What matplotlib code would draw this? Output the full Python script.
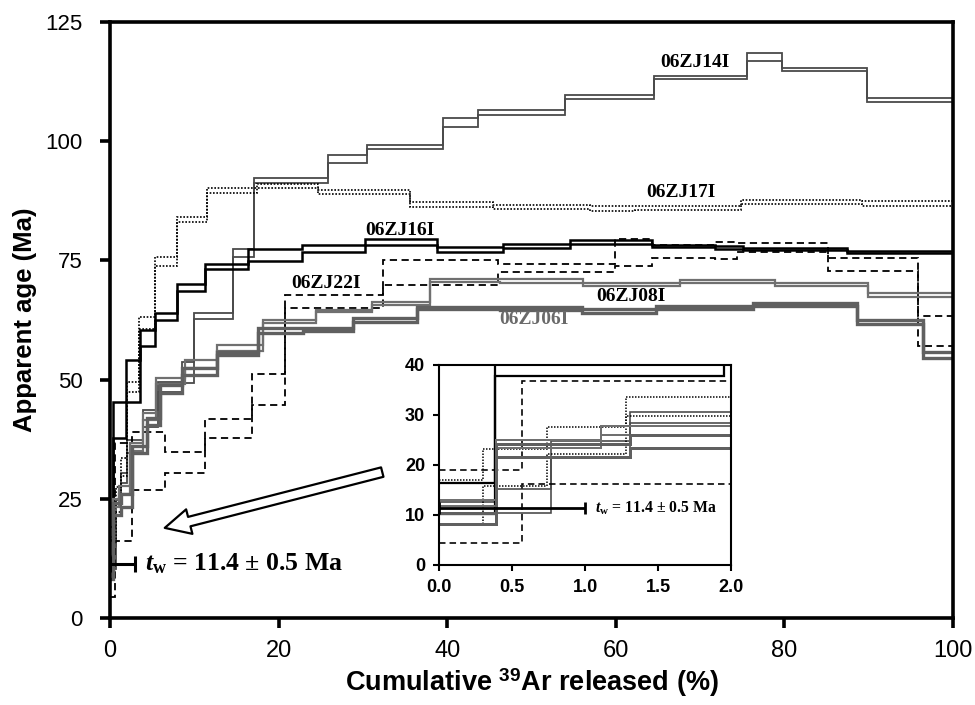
import matplotlib
matplotlib.use('Agg')
import matplotlib.pyplot as plt

plt.rcParams['mathtext.fontset'] = 'custom'
plt.rcParams['mathtext.rm'] = 'Liberation Serif'
plt.rcParams['mathtext.it'] = 'Liberation Serif:italic:bold'
plt.rcParams['mathtext.bf'] = 'Liberation Serif:bold'
plt.rcParams['mathtext.sf'] = 'Liberation Sans:bold'

# Step spectra: cumulative 39Ar edges (%), upper / lower age bounds (Ma)
edges_14 = [0, 0.39, 0.765, 1.31, 2.0, 3.9, 5.7, 8.5, 10.0, 14.6, 17.1, 25.9, 30.5,
            39.5, 43.7, 54.0, 64.5, 75.6, 79.7, 89.8, 100]
upper_14 = [12.5, 15.1, 24.7, 30.5, 37.3, 43.6, 49.5, 53.7, 64.0, 77.4, 92.2, 97.1,
            99.2, 104.8, 106.5, 109.6, 113.6, 118.4, 115.3, 109.0]
lower_14 = [10.3, 10.3, 21.5, 28.3, 34.6, 40.0, 47.5, 49.3, 62.7, 75.7, 91.2, 95.4,
            98.3, 102.9, 105.5, 108.8, 113.0, 116.8, 114.7, 108.2]

edges_17 = [0, 0.3, 0.74, 1.28, 2.0, 3.4, 5.3, 7.9, 11.5, 17.4, 24.7, 35.6, 45.4,
            56.9, 62.3, 74.9, 89.2, 100]
upper_17 = [17.0, 23.2, 27.5, 33.6, 49.5, 63.1, 75.7, 84.1, 90.1, 91.0, 89.7, 87.2,
            86.6, 86.4, 86.4, 87.6, 87.4]
lower_17 = [8.0, 15.8, 22.2, 29.7, 47.4, 60.6, 73.8, 83.0, 89.1, 90.1, 88.9, 86.2,
            85.7, 85.3, 85.5, 86.8, 86.4]

edges_16 = [0, 0.38, 1.95, 3.6, 5.3, 7.9, 11.3, 16.4, 22.8, 30.2, 38.8, 46.6, 54.6,
            64.3, 71.8, 75.1, 87.4, 100]
upper_16 = [16.3, 45.3, 54.1, 60.3, 64.0, 70.0, 74.2, 77.4, 78.2, 79.5, 77.8, 78.4,
            79.2, 78.3, 78.0, 77.6, 76.9]
lower_16 = [10.1, 37.8, 45.3, 57.0, 62.5, 68.6, 73.2, 74.8, 76.7, 78.2, 76.7, 77.6,
            78.4, 77.8, 77.4, 77.2, 76.5]

edges_22 = [0, 0.57, 2.6, 6.5, 11.3, 16.8, 20.8, 32.4, 46.0, 59.9, 64.3, 71.8, 74.4,
            85.2, 95.8, 100]
upper_22 = [19.0, 36.8, 39.0, 34.8, 41.7, 51.2, 67.8, 75.0, 74.2, 79.5, 78.2, 78.8,
            78.6, 75.5, 63.3]
lower_22 = [4.4, 16.2, 26.8, 30.4, 37.7, 44.7, 65.0, 69.8, 72.5, 73.8, 75.5, 75.3,
            76.7, 72.7, 57.0]

edges_08 = [0, 0.39, 1.11, 2.4, 3.9, 5.5, 8.9, 12.7, 18.2, 24.4, 31.1, 38.0, 46.3,
            56.1, 67.6, 78.9, 89.9, 100]
upper_08 = [13.0, 24.9, 27.7, 36.7, 43.0, 50.3, 54.1, 57.2, 62.5, 64.6, 66.2, 71.0,
            71.0, 70.2, 70.9, 70.2, 68.1]
lower_08 = [11.7, 23.3, 26.0, 35.0, 41.5, 49.0, 52.5, 56.0, 61.8, 64.2, 65.6, 70.4,
            70.2, 69.6, 70.2, 69.6, 67.3]

edges_06 = [0, 0.39, 1.31, 2.6, 4.4, 5.9, 8.5, 12.7, 17.5, 22.9, 28.8, 36.4, 46.3,
            56.0, 64.8, 76.3, 88.6, 96.4, 100]
upper_06 = [10.3, 24.2, 26.0, 36.0, 42.0, 48.8, 52.5, 55.8, 60.8, 60.8, 62.9, 65.2,
            65.2, 64.8, 65.4, 66.0, 62.5, 55.8]
lower_06 = [8.1, 21.5, 23.3, 34.6, 40.5, 47.2, 51.0, 55.1, 59.7, 60.2, 62.1, 64.8,
            64.6, 63.9, 64.8, 65.4, 61.6, 54.5]

# weighted mean age
tw_age = 11.4
tw_label = r'$t_{\mathbf{w}}$ = 11.4 ± 0.5 Ma'

samples = [
    ('06ZJ14I', edges_14, upper_14, lower_14, dict(color='#4a4a4a', lw=1.3, ls='-'), (69.4, 116.6), 'black'),
    ('06ZJ17I', edges_17, upper_17, lower_17, dict(color='black', lw=1.2, ls=(0, (1, 1))), (67.7, 89.3), 'black'),
    ('06ZJ16I', edges_16, upper_16, lower_16, dict(color='black', lw=1.8, ls='-'), (34.4, 81.3), 'black'),
    ('06ZJ22I', edges_22, upper_22, lower_22, dict(color='black', lw=1.3, ls=(0, (4, 2.5))), (25.6, 70.2), 'black'),
    ('06ZJ08I', edges_08, upper_08, lower_08, dict(color='#707070', lw=1.6, ls='-'), (61.8, 67.5), 'black'),
    ('06ZJ06I', edges_06, upper_06, lower_06, dict(color='#606060', lw=2.4, ls='-'), (50.3, 62.5), '#6a6a6a'),
]

fig = plt.figure(figsize=(9.75, 7.05), dpi=100)
ax = fig.add_axes([0.1128, 0.1234, 0.8646, 0.8454])

for name, edges, upper, lower, style, pos, tcolor in samples:
    ax.stairs(upper, edges, baseline=None, **style)
    ax.stairs(lower, edges, baseline=None, **style)
    ax.text(pos[0], pos[1], name, ha='center', va='center', fontsize=14,
            fontweight='bold', family='Liberation Serif', color=tcolor)

ax.set_xlim(0, 100)
ax.set_ylim(0, 125)
ax.set_xticks([0, 20, 40, 60, 80, 100])
ax.set_yticks([0, 25, 50, 75, 100, 125])
for s in ax.spines.values():
    s.set_linewidth(2.6)
ax.tick_params(direction='out', length=7.5, width=2.6)
ax.tick_params(axis='y', labelsize=16, pad=12)
ax.tick_params(axis='x', labelsize=17, pad=8)
for lab in ax.get_xticklabels() + ax.get_yticklabels():
    lab.set_family('Liberation Sans')
ax.set_xlabel(r'Cumulative $^{\mathsf{39}}$Ar released (%)', fontsize=19.5,
              fontweight='bold', family='Liberation Sans', labelpad=4)
ax.set_ylabel('Apparent age (Ma)', fontsize=18.5, fontweight='bold',
              family='Liberation Sans', labelpad=6)

# weighted age bar in main panel
ax.errorbar([1.5], [tw_age], xerr=[1.5], fmt='none', ecolor='black',
            elinewidth=2.2, capsize=6, capthick=2.2)
ax.text(4.1, tw_age, tw_label, ha='left', va='center', fontsize=18.5,
        family='Liberation Serif', fontweight='bold')

# hollow arrow pointing to the low-release corner
ax.annotate('', xy=(6.5, 18.9), xytext=(32.3, 30.6),
            arrowprops=dict(arrowstyle='simple,head_length=1.3,head_width=1.3,tail_width=0.5',
                            fc='white', ec='black', lw=1.6, mutation_scale=14,
                            shrinkA=0, shrinkB=0))

# inset: first 2 % of gas release
ins = fig.add_axes([0.4503, 0.1986, 0.2995, 0.2837])
ins.set_facecolor('white')
for name, edges, upper, lower, style, pos, tcolor in samples:
    st = dict(style)
    st['lw'] = style['lw'] * 0.9
    ins.stairs(upper, edges, baseline=None, **st)
    ins.stairs(lower, edges, baseline=None, **st)
ins.errorbar([0.5], [tw_age], xerr=[0.5], fmt='none', ecolor='black',
             elinewidth=2.0, capsize=4, capthick=2.0)
ins.text(1.07, tw_age, tw_label, ha='left', va='center', fontsize=11.3,
         family='Liberation Serif', fontweight='bold')
ins.set_xlim(0, 2)
ins.set_ylim(0, 40)
ins.set_xticks([0, 0.5, 1.0, 1.5, 2.0])
ins.set_xticklabels(['0.0', '0.5', '1.0', '1.5', '2.0'])
ins.set_yticks([0, 10, 20, 30, 40])
for s in ins.spines.values():
    s.set_linewidth(1.5)
ins.tick_params(direction='out', length=4, width=1.5, labelsize=13, pad=6)
for lab in ins.get_xticklabels() + ins.get_yticklabels():
    lab.set_family('Liberation Sans')
    lab.set_fontweight('bold')

fig.savefig('out.png', dpi=100)
